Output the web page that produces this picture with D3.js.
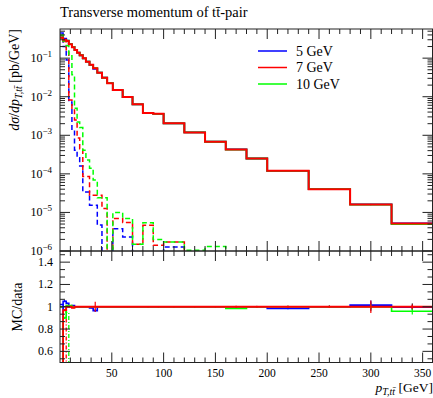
<!DOCTYPE html>
<html><head><meta charset="utf-8">
<script src="https://cdn.jsdelivr.net/npm/d3@7"></script>
<style>
body{margin:0;background:#fff;}
svg text{font-family:"Liberation Serif",serif;fill:#000;}
</style></head><body>
<svg id="c" width="433" height="398"></svg>
<script>
// ---------------- data ----------------
const binEdges = [0, 3, 6, 8.5, 11.5, 14, 16.5, 19, 22, 25, 28.5, 32, 36, 40.5, 45.5, 51, 60.5, 70, 80, 90, 100, 120, 140, 160, 180, 200, 240, 280, 320, 360];
const dataVals = [0.34, 0.31, 0.28, 0.23, 0.195, 0.163, 0.139, 0.119, 0.099, 0.081, 0.067, 0.055, 0.042, 0.031, 0.0224, 0.0149, 0.0098, 0.00635, 0.0038, 0.0036, 0.00204, 0.00119, 6.8e-4, 4.3e-4, 2.5e-4, 1.2e-4, 4.0e-5, 1.6e-5, 5.2e-6];
const dataRelErr = [0.003,0.003,0.003,0.003,0.003,0.003,0.003,0.003,0.003,0.003,0.003,0.003,0.003,0.003,0.003,0.003,0.004,0.004,0.005,0.005,0.005,0.006,0.006,0.007,0.008,0.008,0.01,0.04,0.03];
const mc5 = [0.34, 0.32, 0.285, 0.23, 0.197, 0.163, 0.139, 0.119, 0.099, 0.081, 0.066, 0.053, 0.042, 0.031, 0.0224, 0.0149, 0.0098, 0.00635, 0.0038, 0.0036, 0.00204, 0.00119, 6.8e-4, 4.3e-4, 2.5e-4, 1.18e-4, 4.0e-5, 1.62e-5, 5.2e-6];
const mc7 = [0.34, 0.30, 0.28, 0.23, 0.193, 0.163, 0.139, 0.119, 0.099, 0.081, 0.067, 0.055, 0.042, 0.031, 0.0224, 0.0149, 0.0098, 0.00635, 0.0038, 0.0036, 0.00204, 0.00119, 6.8e-4, 4.3e-4, 2.5e-4, 1.2e-4, 4.0e-5, 1.6e-5, 5.2e-6];
const mc10 = [0.34, 0.28, 0.283, 0.232, 0.195, 0.163, 0.139, 0.119, 0.099, 0.081, 0.067, 0.055, 0.042, 0.031, 0.0224, 0.0149, 0.0098, 0.00635, 0.0038, 0.0036, 0.00204, 0.00119, 6.8e-4, 4.24e-4, 2.5e-4, 1.2e-4, 4.0e-5, 1.6e-5, 5.0e-6];
const dash5 = [0.45, 0.2, 0.09, 0.0073, 0.00136, 4.1e-4, 2.6e-4, 1.6e-4, 3.4e-5, 3.4e-5, 1.54e-5, 1.54e-5, 4.7e-6, 0, 0, 3.8e-6, 2.3e-6, 0, 0, 0, 1.27e-6, 0, 0, 0, 0, 0, 0, 0, 0];
const dash7 = [0.38, 0.27, 0.145, 0.0082, 0.0045, 0.0025, 8.5e-4, 4.5e-4, 8.5e-5, 8.5e-5, 2.8e-5, 2.8e-5, 2.8e-5, 1.27e-5, 0, 7e-6, 5.5e-6, 1.5e-6, 4.65e-6, 1.4e-6, 1.7e-6, 0, 0, 0, 0, 0, 0, 0, 0];
const dash10 = [0.4, 0.3, 0.21, 0.115, 0.037, 0.005, 0.0022, 0.0016, 4.1e-4, 2.3e-4, 1.4e-4, 6.9e-5, 2.4e-5, 2.4e-5, 0, 1.0e-5, 7.0e-6, 1.5e-6, 5.4e-6, 2.0e-6, 1.7e-6, 1.05e-6, 1.3e-6, 0, 0, 0, 0, 0, 0];
// ratio panel (MC/data)
const ratio5 = [0.45, 1.05, 1.03, 1.0, 1.01, 1.0, 1.0, 1.0, 1.0, 1.0, 0.99, 0.965, 1.0, 1.0, 1.0, 1.0, 1.0, 1.0, 1.0, 1.0, 1.0, 1.0, 1.0, 1.0, 1.0, 0.985, 1.0, 1.015, 0.995];
const ratio7 = [0.45, 0.97, 1.0, 1.0, 0.99, 1.0, 1.0, 1.0, 1.0, 1.0, 1.0, 1.0, 1.0, 1.0, 1.0, 1.0, 1.0, 1.0, 1.0, 1.0, 1.0, 1.0, 1.0, 1.0, 1.0, 1.0, 1.0, 1.0, 1.0];
const ratio10 = [0.45, 0.9, 1.01, 1.01, 1.0, 1.0, 1.0, 1.0, 1.0, 1.0, 1.0, 1.0, 1.0, 1.0, 1.0, 1.0, 1.0, 1.0, 1.0, 1.0, 1.0, 1.0, 1.0, 0.985, 1.0, 1.0, 1.0, 1.0, 0.96];
const ratioErr5 = [0,0.01,0.005,0.004,0.004,0.003,0.003,0.003,0.003,0.003,0.003,0.01,0.003,0.003,0.003,0.003,0.003,0.003,0.004,0.004,0.004,0.005,0.005,0.006,0.006,0.008,0.008,0.04,0.02];
const ratioErr7 = [0,0.01,0.005,0.004,0.004,0.003,0.003,0.003,0.003,0.003,0.003,0.045,0.003,0.003,0.003,0.003,0.003,0.003,0.004,0.004,0.004,0.005,0.005,0.008,0.006,0.01,0.008,0.055,0.02];
const ratioErr10 = [0,0.01,0.005,0.004,0.004,0.003,0.003,0.003,0.003,0.003,0.003,0.005,0.003,0.003,0.003,0.003,0.003,0.003,0.004,0.004,0.004,0.005,0.005,0.006,0.006,0.008,0.008,0.02,0.03];
const dashRatio5 = [1.02, 0.3];
const dashRatio7 = [1.0, 0.99, 0.3];
const dashRatio10 = [1.0, 1.0, 0.95, 0.3];
const legendLabels = ["5 GeV", "7 GeV", "10 GeV"];
const seriesColors = ["#0000ff", "#ff0000", "#00ff00"];
const xMajorTicks = [50, 100, 150, 200, 250, 300, 350];
const logDecades = [-6, -5, -4, -3, -2, -1];
const ratioTicks = [0.6, 0.8, 1.0, 1.2, 1.4];
const ratioTickLabels = ["0.6", "0.8", "1", "1.2", "1.4"];

// ---------------- layout ----------------
const svg = d3.select("#c");
const L = 60, R = 432.5, T = 29, M = 251, B = 362.5;
const x = d3.scaleLinear().domain([0, 360]).range([L, R + 0.5]);
const y = d3.scaleLog().domain([1e-6, 0.57]).range([M, T]);
const yr = d3.scaleLinear().domain([0.5, 1.5]).range([B, M]);

const defs = svg.append("defs");
defs.append("clipPath").attr("id", "cpTop").append("rect").attr("x", L).attr("y", T).attr("width", R - L).attr("height", M - T);
defs.append("clipPath").attr("id", "cpBot").append("rect").attr("x", L).attr("y", M).attr("width", R - L).attr("height", B - M);

function stepPath(vals, ys, floor) {
  const n = vals.length;
  const pts = binEdges.slice(0, n + 1).map((e, i) => [e, vals[Math.min(i, n - 1)]]);
  return d3.line()
    .defined(d => d[1] !== null && d[1] !== undefined)
    .x(d => x(d[0]))
    .y(d => ys(Math.max(d[1], floor)))
    .curve(d3.curveStepAfter)(pts);
}

const gTop = svg.append("g").attr("clip-path", "url(#cpTop)");
const gBot = svg.append("g").attr("clip-path", "url(#cpBot)");

// dashed series (top)
[dash5, dash7, dash10].forEach((vals, k) => {
  gTop.append("path").attr("d", stepPath(vals, y, 1e-8)).attr("fill", "none")
    .attr("stroke", seriesColors[k]).attr("stroke-width", 1.5).attr("stroke-dasharray", "5,3");
});
// data
gTop.append("path").attr("d", stepPath(dataVals, y, 1e-8)).attr("fill", "none").attr("stroke", "#000").attr("stroke-width", 1);
dataVals.forEach((v, i) => {
  const cx = x((binEdges[i] + binEdges[i + 1]) / 2);
  gTop.append("line").attr("x1", cx).attr("x2", cx).attr("y1", y(v * (1 - dataRelErr[i]))).attr("y2", y(v * (1 + dataRelErr[i])))
    .attr("stroke", "#000").attr("stroke-width", 1);
});
// solid MC
[[mc5, 0], [mc10, 2], [mc7, 1]].forEach(([vals, k]) => {
  gTop.append("path").attr("d", stepPath(vals, y, 1e-8)).attr("fill", "none")
    .attr("stroke", seriesColors[k]).attr("stroke-width", k === 1 ? 2 : 1.8);
});

// ratio panel
gBot.append("line").attr("x1", L).attr("x2", R).attr("y1", yr(1)).attr("y2", yr(1)).attr("stroke", "#000").attr("stroke-width", 1);
dataRelErr.forEach((e, i) => {
  const cx = x((binEdges[i] + binEdges[i + 1]) / 2);
  gBot.append("line").attr("x1", cx).attr("x2", cx).attr("y1", yr(1 - e)).attr("y2", yr(1 + e)).attr("stroke", "#000").attr("stroke-width", 1);
});
[dashRatio5, dashRatio7, dashRatio10].forEach((vals, k) => {
  gBot.append("path").attr("d", stepPath(vals, yr, 0)).attr("fill", "none")
    .attr("stroke", seriesColors[k]).attr("stroke-width", 1.3).attr("stroke-dasharray", "4,2,1,2");
});
[[ratio5, ratioErr5, 0], [ratio10, ratioErr10, 2], [ratio7, ratioErr7, 1]].forEach(([vals, errs, k]) => {
  gBot.append("path").attr("d", stepPath(vals, yr, 0)).attr("fill", "none")
    .attr("stroke", seriesColors[k]).attr("stroke-width", k === 1 ? 1.8 : 1.6);
  vals.forEach((v, i) => {
    if (!errs[i]) return;
    const cx = x((binEdges[i] + binEdges[i + 1]) / 2);
    gBot.append("line").attr("x1", cx).attr("x2", cx).attr("y1", yr(v - errs[i])).attr("y2", yr(v + errs[i]))
      .attr("stroke", seriesColors[k]).attr("stroke-width", 1.2);
  });
});

// ---------------- frames & ticks ----------------
const axisG = svg.append("g").attr("stroke", "#222").attr("stroke-width", 1);
function tick(x1, y1, x2, y2) { axisG.append("line").attr("x1", x1).attr("y1", y1).attr("x2", x2).attr("y2", y2); }
axisG.append("rect").attr("x", L).attr("y", T).attr("width", R - L).attr("height", M - T).attr("fill", "none");
axisG.append("rect").attr("x", L).attr("y", M).attr("width", R - L).attr("height", B - M).attr("fill", "none");

// x ticks
d3.range(10, 360, 10).forEach(v => {
  const major = v % 50 === 0;
  const len = major ? 10 : 5;
  const px = x(v);
  tick(px, T, px, T + len);
  tick(px, M, px, M - len);
  tick(px, M, px, M + len);
  tick(px, B, px, B - len);
});
// log y ticks
logDecades.forEach(d => {
  for (let m = 1; m <= 9; m++) {
    const v = m * Math.pow(10, d);
    if (v > 0.57) continue;
    const py = y(v);
    const len = m === 1 ? 10 : 5;
    tick(L, py, L + len, py);
    tick(R, py, R - len, py);
  }
});
// ratio y ticks
d3.range(0, 15).forEach(k => {
  const v = 0.5333 + k * (0.2 / 3);
  const isMajor = ratioTicks.some(t => Math.abs(t - v) < 0.01);
  const py = yr(v);
  if (v >= 1.5) return;
  const len = isMajor ? 10 : 5;
  tick(L, py, L + len, py);
  tick(R, py, R - len, py);
});

// ---------------- labels ----------------
const fs = 11.5;
xMajorTicks.forEach(v => {
  svg.append("text").attr("x", x(v)).attr("y", 377).attr("text-anchor", "middle").attr("font-size", fs).text(v);
});
logDecades.forEach(d => {
  const t = svg.append("text").attr("x", 52).attr("y", y(Math.pow(10, d)) + 4).attr("text-anchor", "end").attr("font-size", 12);
  t.append("tspan").text("10");
  t.append("tspan").attr("dy", -5).attr("font-size", 9).text("\u2212" + Math.abs(d));
});
ratioTicks.forEach((v, i) => {
  svg.append("text").attr("x", 53).attr("y", yr(v) + 4).attr("text-anchor", "end").attr("font-size", 12).text(ratioTickLabels[i]);
});

// title
svg.append("text").attr("x", 60).attr("y", 17).attr("font-size", 14.5).text("Transverse momentum of t\u0074\u0304-pair");

// y label
const yl = svg.append("text").attr("transform", "translate(19,29) rotate(-90)").attr("text-anchor", "end").attr("font-size", 14);
yl.append("tspan").attr("font-style", "italic").text("d\u03c3");
yl.append("tspan").text("/");
yl.append("tspan").attr("font-style", "italic").text("dp");
yl.append("tspan").attr("font-style", "italic").attr("font-size", 10).attr("dy", 3).text("T,tt\u0304");
yl.append("tspan").attr("dy", -3).text(" [pb/GeV]");

svg.append("text").attr("transform", "translate(22,307) rotate(-90)").attr("text-anchor", "middle").attr("font-size", 14).text("MC/data");

// x label
const xl = svg.append("text").attr("x", 433).attr("y", 392).attr("text-anchor", "end").attr("font-size", 13.5);
xl.append("tspan").attr("font-style", "italic").text("p");
xl.append("tspan").attr("font-style", "italic").attr("font-size", 10).attr("dy", 3).text("T,tt\u0304");
xl.append("tspan").attr("dy", -3).text(" [GeV]");

// legend
legendLabels.forEach((lab, k) => {
  const ly = 51 + k * 16.5;
  svg.append("line").attr("x1", 258).attr("x2", 287).attr("y1", ly).attr("y2", ly).attr("stroke", seriesColors[k]).attr("stroke-width", 1.5);
  svg.append("text").attr("x", 296).attr("y", ly + 4.5).attr("font-size", 14).text(lab);
});
</script>
</body></html>
